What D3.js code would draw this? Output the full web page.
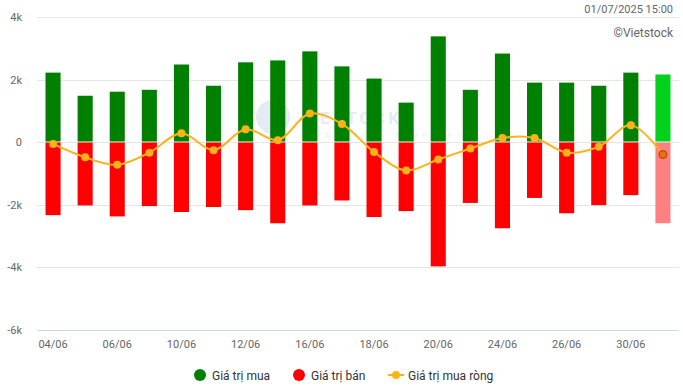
<!DOCTYPE html>
<html>
<head>
<meta charset="utf-8">
<script src="https://cdn.jsdelivr.net/npm/d3@7"></script>
<style>
  body { margin: 0; background: #fff; }
  svg { font-family: Roboto, "Open Sans", sans-serif; display: block; }
</style>
</head>
<body>
<div id="chart"></div>
<script>
// Giá trị mua / bán / mua ròng (tỷ đồng)
const days = ['04/06','05/06','06/06','09/06','10/06','11/06','12/06','13/06','16/06','17/06',
              '18/06','19/06','20/06','23/06','24/06','25/06','26/06','27/06','30/06','01/07'];
const shownDays = ['04/06','06/06','10/06','12/06','16/06','18/06','20/06','24/06','26/06','30/06'];
const buyVals  = [2220,1480,1610,1670,2480,1800,2550,2610,2900,2420,2030,1260,3380,1670,2830,1900,1900,1800,2220,2160];
const sellVals = [-2340,-2030,-2380,-2050,-2240,-2080,-2180,-2600,-2030,-1870,-2400,-2210,-3980,-1950,-2760,-1790,-2280,-2020,-1700,-2600];
const netVals  = [-60,-490,-730,-340,280,-260,410,60,910,580,-320,-910,-560,-210,130,130,-340,-150,540,-400];
const yTicks = [4000,2000,0,-2000,-4000,-6000];

const W = 683, H = 386;
const svg = d3.select('#chart').append('svg').attr('width', W).attr('height', H);

const x = d3.scaleBand().domain(days).range([37, 679]).paddingInner(0.53).paddingOuter(0.265);
const y = d3.scaleLinear().domain([-6000, 4000]).range([329.5, 17]);
const lastIdx = days.length - 1;

// lưới
svg.append('g').selectAll('line').data(yTicks).join('line')
    .attr('x1', 37).attr('x2', 679)
    .attr('y1', d => Math.round(y(d)) + 0.5).attr('y2', d => Math.round(y(d)) + 0.5)
    .attr('stroke', d => d === -6000 ? '#ccd6eb' : '#e6e6e6');

svg.append('g').selectAll('text').data(yTicks).join('text')
    .attr('x', 22).attr('y', d => y(d) + 4)
    .attr('text-anchor', 'end').attr('font-size', 11).attr('fill', '#666')
    .text(d => d === 0 ? '0' : (d / 1000) + 'k');

// watermark
const wm = svg.append('g').attr('opacity', 0.12);
wm.append('circle').attr('cx', 273).attr('cy', 117).attr('r', 17).attr('fill', '#2a5fa8');
wm.append('text').attr('x', 320).attr('y', 124).attr('font-size', 17).attr('font-weight', 700)
    .attr('fill', '#2a5fa8').attr('letter-spacing', 3).text('ESTOCK');
wm.append('text').attr('x', 318).attr('y', 137).attr('font-size', 8)
    .attr('fill', '#2a5fa8').attr('letter-spacing', 5).text('research & analysis');

// cột mua
svg.append('g').selectAll('rect').data(buyVals).join('rect')
    .attr('x', (d, i) => x(days[i])).attr('width', x.bandwidth())
    .attr('y', d => y(d)).attr('height', d => y(0) - 0.5 - y(d))
    .attr('fill', (d, i) => i === lastIdx ? '#00d21c' : '#008000');

// cột bán
svg.append('g').selectAll('rect').data(sellVals).join('rect')
    .attr('x', (d, i) => x(days[i])).attr('width', x.bandwidth())
    .attr('y', y(0) + 0.5).attr('height', d => y(d) - y(0) - 0.5)
    .attr('fill', (d, i) => i === lastIdx ? '#ff8080' : '#ff0000');

// đường mua ròng
const cx = i => x(days[i]) + x.bandwidth() / 2;
const line = d3.line().x((d, i) => cx(i)).y(d => y(d)).curve(d3.curveCatmullRom.alpha(0.5));
svg.append('path').datum(netVals).attr('d', line)
    .attr('fill', 'none').attr('stroke', '#fdb21a').attr('stroke-width', 2);
svg.append('g').selectAll('circle').data(netVals).join('circle')
    .attr('cx', (d, i) => cx(i)).attr('cy', d => y(d)).attr('r', 4)
    .attr('fill', (d, i) => i === lastIdx ? '#ff6a00' : '#fdb21a')
    .attr('stroke', (d, i) => i === lastIdx ? '#8a4a20' : 'none').attr('stroke-width', 1);

// trục x
svg.append('g').selectAll('text').data(shownDays).join('text')
    .attr('x', d => x(d) + x.bandwidth() / 2).attr('y', 348)
    .attr('text-anchor', 'middle').attr('font-size', 11).attr('fill', '#666')
    .text(d => d);

// tiêu đề góc phải
svg.append('text').attr('x', 673).attr('y', 13).attr('text-anchor', 'end')
    .attr('font-size', 11).attr('fill', '#666').text('01/07/2025 15:00');
svg.append('text').attr('x', 673).attr('y', 37).attr('text-anchor', 'end')
    .attr('font-size', 12).attr('fill', '#666').text('©Vietstock');

// chú thích
const legend = [
    {label: 'Giá trị mua', color: '#008000', x: 200, type: 'dot'},
    {label: 'Giá trị bán', color: '#ff0000', x: 299, type: 'dot'},
    {label: 'Giá trị mua ròng', color: '#fdb21a', x: 396, type: 'line'}
];
const lg = svg.append('g').selectAll('g').data(legend).join('g')
    .attr('transform', d => `translate(${d.x},375)`);
lg.filter(d => d.type === 'dot').append('circle').attr('r', 6).attr('fill', d => d.color);
lg.filter(d => d.type === 'line').append('line').attr('x1', -8).attr('x2', 8)
    .attr('stroke', d => d.color).attr('stroke-width', 2);
lg.filter(d => d.type === 'line').append('circle').attr('r', 4).attr('fill', d => d.color);
lg.append('text').attr('x', d => d.type === 'line' ? 12 : 12).attr('y', 4.5)
    .attr('font-size', 12).attr('fill', '#333').text(d => d.label);
</script>
</body>
</html>
